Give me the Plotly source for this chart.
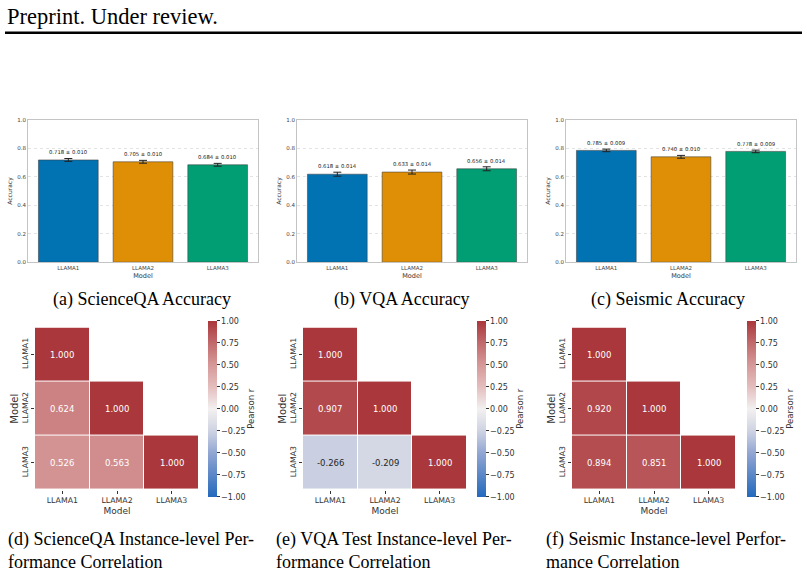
import plotly.graph_objects as go

W, H = 807, 572

# ---------------- data ----------------
models = ["LLAMA1", "LLAMA2", "LLAMA3"]
sqa_acc = [0.718, 0.705, 0.684]
sqa_err = [0.010, 0.010, 0.010]
vqa_acc = [0.618, 0.633, 0.656]
vqa_err = [0.014, 0.014, 0.014]
seis_acc = [0.785, 0.740, 0.778]
seis_err = [0.009, 0.010, 0.009]

acc_ticks = [0.0, 0.2, 0.4, 0.6, 0.8, 1.0]
acc_ticktext = ["0.0", "0.2", "0.4", "0.6", "0.8", "1.0"]

sqa_corr = [[1.000, None, None],
            [0.624, 1.000, None],
            [0.526, 0.563, 1.000]]
vqa_corr = [[1.000, None, None],
            [0.907, 1.000, None],
            [-0.266, -0.209, 1.000]]
seis_corr = [[1.000, None, None],
             [0.920, 1.000, None],
             [0.894, 0.851, 1.000]]

cb_ticks = [1.0, 0.75, 0.5, 0.25, 0.0, -0.25, -0.5, -0.75, -1.0]
cb_ticktext = ["1.00", "0.75", "0.50", "0.25", "0.00", "\u22120.25", "\u22120.50", "\u22120.75", "\u22121.00"]

bar_colors = ["#0173b2", "#de8f05", "#029e73"]

captions_top = ["(a) ScienceQA Accuracy", "(b) VQA Accuracy", "(c) Seismic Accuracy"]
captions_bottom = ["(d) ScienceQA Instance-level Per-<br>formance Correlation",
                   "(e) VQA Test Instance-level Per-<br>formance Correlation",
                   "(f) Seismic Instance-level Perfor-<br>mance Correlation"]

vlag = [[0.0, (35, 105, 189)], [0.125, (90, 135, 199)], [0.25, (146, 166, 211)],
        [0.375, (206, 211, 226)], [0.5, (243, 240, 240)], [0.625, (228, 190, 190)],
        [0.75, (214, 152, 152)], [0.875, (193, 106, 108)], [1.0, (169, 55, 59)]]
colorscale = [[p, "rgb(%d,%d,%d)" % c] for p, c in vlag]


def cmap(v):
    t = (v + 1) / 2
    for (p0, c0), (p1, c1) in zip(vlag[:-1], vlag[1:]):
        if p0 <= t <= p1:
            f = (t - p0) / (p1 - p0)
            return tuple(c0[i] + f * (c1[i] - c0[i]) for i in range(3))
    return vlag[-1][1]


def lum(c):
    out = []
    for x in c:
        x = x / 255
        out.append(x / 12.92 if x <= 0.03928 else ((x + 0.055) / 1.055) ** 2.4)
    return 0.2126 * out[0] + 0.7152 * out[1] + 0.0722 * out[2]


def fx(px):
    return px / W


def fy(py):
    return 1 - py / H


FONT = "DejaVu Sans"
SERIF = "Liberation Serif"

fig = go.Figure()
annotations = []

# ---------------- bar charts ----------------
bar_x0 = [28, 297, 566]
cap_top_x = [142, 402, 668]
bar_sets = [(sqa_acc, sqa_err), (vqa_acc, vqa_err), (seis_acc, seis_err)]
for i, ((acc, err), x0) in enumerate(zip(bar_sets, bar_x0)):
    n = i + 1
    xa = "x" if n == 1 else "x%d" % n
    ya = "y" if n == 1 else "y%d" % n
    fig.add_trace(go.Bar(
        x=models, y=acc, width=0.8, xaxis=xa, yaxis=ya,
        marker=dict(color=bar_colors, line=dict(color="rgba(60,60,60,0.55)", width=1)),
        error_y=dict(type="data", array=err, thickness=1, width=4, color="#222"),
        showlegend=False, hoverinfo="skip",
    ))
    for m, a, e in zip(models, acc, err):
        annotations.append(dict(
            x=m, y=a + e + 0.009, xref=xa, yref=ya, text="%.3f \u00b1 %.3f" % (a, e),
            showarrow=False, xanchor="center", yanchor="bottom",
            font=dict(family=FONT, size=5.3, color="#222")))
    axkw = dict(domain=[fx(x0), fx(x0 + 230)], anchor=ya, range=[-0.54, 2.54],
                showline=True, mirror=True, linecolor="#c4c4c4", linewidth=1,
                showgrid=False, ticks="", tickfont=dict(family=FONT, size=5.5, color="#444"),
                title=dict(text="Model", font=dict(family=FONT, size=6.5, color="#333"), standoff=3))
    aykw = dict(domain=[fy(262), fy(118)], anchor=xa, range=[0, 1],
                tickvals=acc_ticks, ticktext=acc_ticktext,
                showline=True, mirror=True, linecolor="#c4c4c4", linewidth=1,
                showgrid=True, gridcolor="#e3e3e3", griddash="dot", gridwidth=0.8,
                zeroline=False, ticks="", tickfont=dict(family=FONT, size=5.5, color="#444"),
                title=dict(text="Accuracy", font=dict(family=FONT, size=6, color="#333"), standoff=4))
    fig.layout["xaxis" if n == 1 else "xaxis%d" % n] = axkw
    fig.layout["yaxis" if n == 1 else "yaxis%d" % n] = aykw
    annotations.append(dict(
        x=fx(cap_top_x[i]), y=fy(300), xref="paper", yref="paper", text=captions_top[i],
        showarrow=False, xanchor="center", yanchor="middle",
        font=dict(family=SERIF, size=18, color="black")))

# ---------------- heatmaps ----------------
hm_x0 = [35, 303, 572]
cb_x0 = [208, 477, 747]
corrs = [sqa_corr, vqa_corr, seis_corr]
cap_x = [6, 274, 544]
for i, (z, x0, cx) in enumerate(zip(corrs, hm_x0, cb_x0)):
    n = i + 4
    xa = "x%d" % n
    ya = "y%d" % n
    fig.add_trace(go.Heatmap(
        z=z, x=models, y=models, xaxis=xa, yaxis=ya, zmin=-1, zmax=1,
        colorscale=colorscale, xgap=1, ygap=1, hoverinfo="skip",
        colorbar=dict(x=fx(cx), xanchor="left", y=fy(410), yanchor="middle",
                      len=176, lenmode="pixels", thickness=9, thicknessmode="pixels",
                      outlinewidth=0, xpad=0, ypad=0, ticks="outside", ticklen=3,
                      tickwidth=0.8, tickcolor="#333", tickvals=cb_ticks, ticktext=cb_ticktext,
                      tickfont=dict(family=FONT, size=8, color="#333")),
    ))
    for r in range(3):
        for c in range(3):
            v = z[r][c]
            if v is None:
                continue
            col = "#262626" if lum(cmap(v)) > 0.408 else "white"
            annotations.append(dict(
                x=models[c], y=models[r], xref=xa, yref=ya, text="%.3f" % v,
                showarrow=False, xanchor="center", yanchor="middle",
                font=dict(family=FONT, size=8.5, color=col)))
    fig.layout["xaxis%d" % n] = dict(
        domain=[fx(x0), fx(x0 + 164)], anchor=ya, showgrid=False, zeroline=False,
        showline=False, ticks="outside", ticklen=3, tickwidth=0.8, tickcolor="#333",
        tickfont=dict(family=FONT, size=7.8, color="#333"),
        title=dict(text="Model", font=dict(family=FONT, size=9, color="#333"), standoff=3))
    fig.layout["yaxis%d" % n] = dict(
        domain=[fy(492), fy(328)], anchor=xa, showgrid=False, zeroline=False,
        showline=False, autorange="reversed", ticks="outside", ticklen=3, tickwidth=0.8,
        tickcolor="#333", tickangle=-90,
        tickfont=dict(family=FONT, size=7.8, color="#333"),
        title=dict(text="Model", font=dict(family=FONT, size=10, color="#333"), standoff=0))
    annotations.append(dict(
        x=fx(cx + 43), y=fy(410), xref="paper", yref="paper", text="Pearson r",
        textangle=-90, showarrow=False, xanchor="center", yanchor="middle",
        font=dict(family=FONT, size=8.5, color="#333")))
    annotations.append(dict(
        x=fx(cap_x[i]), y=fy(530), xref="paper", yref="paper", text=captions_bottom[i],
        showarrow=False, xanchor="left", yanchor="top", align="left",
        font=dict(family=SERIF, size=18, color="black")))

# ---------------- header ----------------
annotations.append(dict(
    x=fx(5), y=fy(14), xref="paper", yref="paper", text="Preprint. Under review.",
    showarrow=False, xanchor="left", yanchor="middle",
    font=dict(family=SERIF, size=22.5, color="black")))

fig.update_layout(
    width=W, height=H, margin=dict(l=0, r=0, t=0, b=0),
    paper_bgcolor="white", plot_bgcolor="white",
    annotations=annotations, showlegend=False,
    shapes=[dict(type="line", xref="paper", yref="paper", x0=fx(5), x1=fx(802),
                 y0=fy(30), y1=fy(30), line=dict(color="black", width=2.5))],
)

fig.write_html("out.html")
